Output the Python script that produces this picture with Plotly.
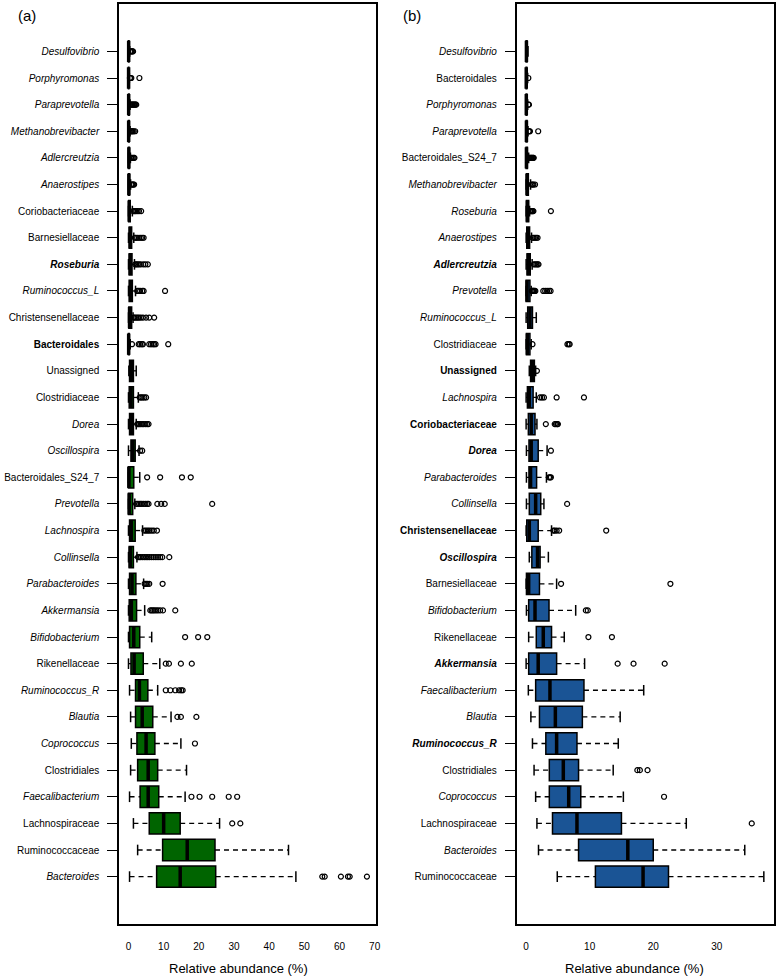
import plotly.graph_objects as go

# ---------------- Panel (a) data (top to bottom) ----------------
labels_a = ["<i>Desulfovibrio</i>", "<i>Porphyromonas</i>", "<i>Paraprevotella</i>",
            "<i>Methanobrevibacter</i>", "<i>Adlercreutzia</i>", "<i>Anaerostipes</i>",
            "Coriobacteriaceae", "Barnesiellaceae", "<b><i>Roseburia</i></b>",
            "<i>Ruminococcus_L</i>", "Christensenellaceae", "<b>Bacteroidales</b>",
            "Unassigned", "Clostridiaceae", "<i>Dorea</i>", "<i>Oscillospira</i>",
            "Bacteroidales_S24_7", "<i>Prevotella</i>", "<i>Lachnospira</i>",
            "<i>Collinsella</i>", "<i>Parabacteroides</i>", "<i>Akkermansia</i>",
            "<i>Bifidobacterium</i>", "Rikenellaceae", "<i>Ruminococcus_R</i>",
            "<i>Blautia</i>", "<i>Coprococcus</i>", "Clostridiales",
            "<i>Faecalibacterium</i>", "Lachnospiraceae", "Ruminococcaceae",
            "<i>Bacteroides</i>"]
q1_a = [0, 0, 0, 0, 0, 0, 0.05, 0.2, 0.2, 0.2, 0.1, 0, 0.3, 0.2, 0.3, 0.7, 0, 0, 0.3, 0.2,
        0.3, 0.2, 0.3, 0.7, 2.0, 2.0, 2.4, 2.6, 3.3, 5.9, 9.7, 8.0]
med_a = [0.05, 0.03, 0.05, 0.05, 0.1, 0.1, 0.2, 0.5, 0.5, 0.6, 0.3, 0.05, 0.8, 0.7, 0.8, 1.2,
         0.1, 0.2, 0.8, 0.5, 1.0, 0.8, 1.5, 1.6, 3.1, 3.9, 5.0, 5.6, 5.6, 10.0, 16.7, 14.7]
q3_a = [0.15, 0.1, 0.2, 0.2, 0.25, 0.3, 0.5, 0.9, 1.0, 1.1, 0.9, 0.2, 1.4, 1.4, 1.4, 1.9,
        1.5, 1.2, 1.9, 1.4, 2.1, 2.3, 3.2, 4.2, 5.5, 6.9, 7.5, 8.3, 8.6, 14.7, 24.6, 24.8]
lo_a = [0, 0, 0, 0, 0, 0, 0, 0, 0, 0, 0, 0, 0.1, 0, 0, 0, 0, 0, 0, 0,
        0, 0, 0, 0, 0.3, 0.6, 0.8, 0.6, 0.3, 1.4, 2.6, 0.3]
hi_a = [0.35, 0.25, 0.45, 0.45, 0.55, 0.6, 1.1, 1.5, 1.7, 2.0, 1.3, 0.5, 2.2, 2.8, 2.2, 3.0,
        3.2, 1.8, 4.0, 2.4, 4.3, 4.6, 6.6, 8.9, 8.3, 12.1, 14.9, 16.5, 16.1, 25.9, 45.5, 47.6]
out_a = [
    [0.5, 0.7, 0.9, 1.1, 1.3],
    [0.4, 0.6, 0.8, 3.1],
    [0.6, 0.8, 1.0, 1.2, 1.4, 1.6, 1.8, 2.0, 2.2],
    [0.6, 0.8, 1.0, 1.2, 1.5, 1.9],
    [0.7, 0.9, 1.2, 1.5, 1.7],
    [0.8, 1.0, 1.2, 1.4, 1.6],
    [1.3, 1.6, 1.9, 2.2, 2.6, 3.0, 3.6],
    [1.8, 2.1, 2.5, 3.0, 3.5, 3.9, 4.3],
    [1.9, 2.2, 2.6, 3.0, 3.5, 4.2, 4.8, 5.5],
    [2.5, 2.9, 3.3, 3.9, 4.3, 10.4],
    [1.5, 1.8, 2.2, 2.6, 3.0, 3.5, 4.1, 5.0, 5.9, 7.3],
    [1.0, 2.9, 3.3, 3.8, 4.1, 5.9, 6.4, 6.9, 7.3, 7.7, 11.3],
    [],
    [3.2, 3.6, 4.0, 4.5, 5.0],
    [2.5, 2.8, 3.1, 3.5, 3.9, 4.3, 4.8, 5.3, 5.7],
    [3.3, 3.9],
    [5.3, 9.0, 15.2, 17.7],
    [2.2, 2.6, 3.0, 3.4, 3.8, 4.3, 4.8, 5.3, 5.7, 8.2, 9.3, 10.3, 23.8],
    [4.5, 5.0, 5.5, 6.0, 6.6, 7.2, 8.1],
    [2.7, 3.1, 3.5, 4.0, 4.5, 5.0, 5.5, 6.0, 6.6, 7.2, 7.8, 8.4, 9.0, 9.6, 11.6],
    [4.6, 5.0, 5.4, 5.9, 9.7],
    [6.2, 6.6, 7.0, 7.4, 7.9, 8.4, 9.0, 9.8, 13.3],
    [16.1, 19.8, 22.4],
    [10.6, 11.5, 14.9, 18.0],
    [10.6, 11.9, 13.3, 14.4, 15.0, 15.4],
    [13.9, 14.9, 19.3],
    [18.9],
    [],
    [17.9, 20.2, 23.8, 28.5, 30.9],
    [29.5, 31.8],
    [],
    [55.1, 55.8, 60.4, 62.4, 62.9, 67.8],
]
xticks_a = [0, 10, 20, 30, 40, 50, 60, 70]

# ---------------- Panel (b) data (top to bottom) ----------------
labels_b = ["<i>Desulfovibrio</i>", "Bacteroidales", "<i>Porphyromonas</i>",
            "<i>Paraprevotella</i>", "Bacteroidales_S24_7", "<i>Methanobrevibacter</i>",
            "<i>Roseburia</i>", "<i>Anaerostipes</i>", "<b><i>Adlercreutzia</i></b>",
            "<i>Prevotella</i>", "<i>Ruminococcus_L</i>", "Clostridiaceae",
            "<b>Unassigned</b>", "<i>Lachnospira</i>", "<b>Coriobacteriaceae</b>",
            "<b><i>Dorea</i></b>", "<i>Parabacteroides</i>", "<i>Collinsella</i>",
            "<b>Christensenellaceae</b>", "<b><i>Oscillospira</i></b>", "Barnesiellaceae",
            "<i>Bifidobacterium</i>", "Rikenellaceae", "<b><i>Akkermansia</i></b>",
            "<i>Faecalibacterium</i>", "<i>Blautia</i>", "<b><i>Ruminococcus_R</i></b>",
            "Clostridiales", "<i>Coprococcus</i>", "Lachnospiraceae", "<i>Bacteroides</i>",
            "Ruminococcaceae"]
q1_b = [0, 0, 0, 0, 0, 0.05, 0.05, 0.1, 0.15, 0, 0.25, 0.05, 0.7, 0.2, 0.35, 0.45, 0.45,
        0.5, 0.1, 0.9, 0.05, 0.4, 1.6, 0.4, 1.5, 2.1, 3.1, 3.65, 3.65, 4.15, 8.25, 10.9]
med_b = [0.05, 0.02, 0.03, 0.05, 0.05, 0.15, 0.2, 0.3, 0.35, 0.15, 0.6, 0.2, 1.0, 0.5, 0.8,
         0.8, 0.7, 1.5, 0.5, 1.8, 0.4, 1.4, 2.7, 1.9, 3.75, 4.6, 4.8, 5.85, 6.7, 8.0, 16.0, 18.4]
q3_b = [0.15, 0.1, 0.12, 0.15, 0.2, 0.35, 0.4, 0.55, 0.65, 0.6, 1.0, 0.6, 1.3, 1.1, 1.4,
        1.9, 1.65, 2.3, 1.9, 2.2, 2.1, 3.6, 4.0, 4.8, 9.1, 8.85, 8.0, 8.25, 8.6, 15.0, 20.0, 22.4]
lo_b = [0, 0, 0, 0, 0, 0, 0, 0, 0, 0, 0, 0, 0.5, 0, 0, 0.05, 0.05, 0.05, 0, 0.5, 0, 0.05,
        0.4, 0, 0.35, 0.75, 1.0, 1.25, 1.5, 1.7, 1.95, 4.9]
hi_b = [0.3, 0.25, 0.25, 0.3, 0.4, 0.7, 0.55, 0.85, 0.95, 0.8, 1.6, 0.8, 1.5, 1.6, 1.7, 3.3,
        3.2, 2.8, 4.0, 3.5, 4.8, 7.8, 6.0, 9.2, 18.5, 14.8, 14.5, 13.7, 15.3, 25.2, 34.4, 37.4]
out_b = [
    [],
    [0.35],
    [0.35, 0.45],
    [0.4, 0.5, 0.6, 1.9],
    [0.5, 0.6, 0.7, 0.8, 0.9, 1.0, 1.1, 1.2],
    [0.85, 1.0, 1.15, 1.4],
    [0.65, 0.75, 0.85, 0.95, 1.05, 1.15, 3.9],
    [1.0, 1.2, 1.4, 1.6, 1.8],
    [1.2, 1.4, 1.6, 1.8, 1.95],
    [0.9, 1.0, 1.1, 1.2, 1.3, 1.45, 2.7, 3.0, 3.3, 3.6, 3.85],
    [],
    [1.0, 6.5, 6.7, 6.85],
    [1.7],
    [2.2, 2.5, 2.8, 4.8, 9.1],
    [3.1, 4.5, 4.7, 4.9, 5.0],
    [3.9],
    [3.6, 3.75, 3.9],
    [6.45],
    [4.3, 4.5, 4.8, 5.2, 12.6],
    [],
    [5.5, 22.7],
    [9.4, 9.7],
    [9.8, 13.5],
    [14.4, 16.9, 21.8],
    [],
    [],
    [],
    [17.5, 17.9, 19.1],
    [21.7],
    [35.5],
    [],
    [],
]
xticks_b = [0, 10, 20, 30]

FONT = "Liberation Sans, Arial, sans-serif"
fig = go.Figure()


def add_panel(labels, q1, med, q3, lo, hi, outs, fill, xa, ya):
    n = len(labels)
    pos = [n - i for i in range(n)]
    # boxes (no whiskers; those are drawn dashed below)
    fig.add_trace(go.Box(
        orientation="h", y=pos, q1=q1, median=med, q3=q3,
        lowerfence=q1, upperfence=q3, width=0.8,
        fillcolor=fill, line=dict(color="black", width=1.5),
        boxpoints=False, showlegend=False, hoverinfo="skip",
        xaxis=xa, yaxis=ya))
    # dashed whiskers
    wx, wy = [], []
    for p, a, b, c, d in zip(pos, lo, q1, q3, hi):
        if d > c:
            wx += [c, d, None]; wy += [p, p, None]
        if a < b:
            wx += [a, b, None]; wy += [p, p, None]
    fig.add_trace(go.Scatter(x=wx, y=wy, mode="lines",
                             line=dict(color="black", width=1.3, dash="5px,4px"),
                             showlegend=False, hoverinfo="skip", xaxis=xa, yaxis=ya))
    # staples
    sx, sy = [], []
    for p, a, d in zip(pos, lo, hi):
        sx += [a, a, None, d, d, None]
        sy += [p - 0.2, p + 0.2, None, p - 0.2, p + 0.2, None]
    fig.add_trace(go.Scatter(x=sx, y=sy, mode="lines",
                             line=dict(color="black", width=1.5),
                             showlegend=False, hoverinfo="skip", xaxis=xa, yaxis=ya))
    # thick medians
    mx, my = [], []
    for p, m in zip(pos, med):
        mx += [m, m, None]; my += [p - 0.4, p + 0.4, None]
    fig.add_trace(go.Scatter(x=mx, y=my, mode="lines",
                             line=dict(color="black", width=3.5),
                             showlegend=False, hoverinfo="skip", xaxis=xa, yaxis=ya))
    # outliers
    ox, oy = [], []
    for p, o in zip(pos, outs):
        ox += o; oy += [p] * len(o)
    fig.add_trace(go.Scatter(x=ox, y=oy, mode="markers",
                             marker=dict(symbol="circle-open", size=5, color="black",
                                         line=dict(width=1.2, color="black")),
                             showlegend=False, hoverinfo="skip", xaxis=xa, yaxis=ya))
    return pos


pos_a = add_panel(labels_a, q1_a, med_a, q3_a, lo_a, hi_a, out_a, "#006400", "x", "y")
pos_b = add_panel(labels_b, q1_b, med_b, q3_b, lo_b, hi_b, out_b, "#1a5495", "x2", "y2")

n = len(labels_a)
yr = [-0.78, n + 1.78]

xcommon = dict(showline=True, mirror=True, linecolor="black", linewidth=1.5,
               ticks="", showgrid=False, zeroline=False,
               tickfont=dict(family=FONT, size=10, color="black"),
               ticklabelstandoff=12)
ycommon = dict(showline=True, mirror=True, linecolor="black", linewidth=1.5,
               ticks="outside", ticklen=10, tickwidth=1.2, tickcolor="black",
               showgrid=False, zeroline=False, range=yr,
               tickfont=dict(family=FONT, size=10, color="black"),
               ticklabelstandoff=6)

fig.update_layout(
    width=780, height=977,
    margin=dict(l=119, r=2, t=2, b=53),
    paper_bgcolor="white", plot_bgcolor="white",
    xaxis=dict(domain=[0, 0.393], range=[-2.7, 70.5], tickvals=xticks_a, anchor="y", **xcommon),
    yaxis=dict(anchor="x", tickvals=pos_a, ticktext=labels_a, **ycommon),
    xaxis2=dict(domain=[0.607, 1], range=[-1.5, 39], tickvals=xticks_b, anchor="y2", **xcommon),
    yaxis2=dict(anchor="x2", tickvals=pos_b, ticktext=labels_b, **ycommon),
    annotations=[
        dict(text="Relative abundance (%)", x=0.182, y=-0.0488, xref="paper", yref="paper",
             xanchor="center", yanchor="middle", showarrow=False,
             font=dict(family=FONT, size=13, color="black")),
        dict(text="Relative abundance (%)", x=0.787, y=-0.0488, xref="paper", yref="paper",
             xanchor="center", yanchor="middle", showarrow=False,
             font=dict(family=FONT, size=13, color="black")),
        dict(text="(a)", x=-0.141, y=0.987, xref="paper", yref="paper",
             xanchor="center", yanchor="middle", showarrow=False,
             font=dict(family=FONT, size=15, color="black")),
        dict(text="(b)", x=0.4476, y=0.987, xref="paper", yref="paper",
             xanchor="center", yanchor="middle", showarrow=False,
             font=dict(family=FONT, size=15, color="black")),
    ],
)

fig.write_html("out.html", config={"displayModeBar": False},
               post_script="document.body.style.margin='0';document.body.style.padding='0';")
